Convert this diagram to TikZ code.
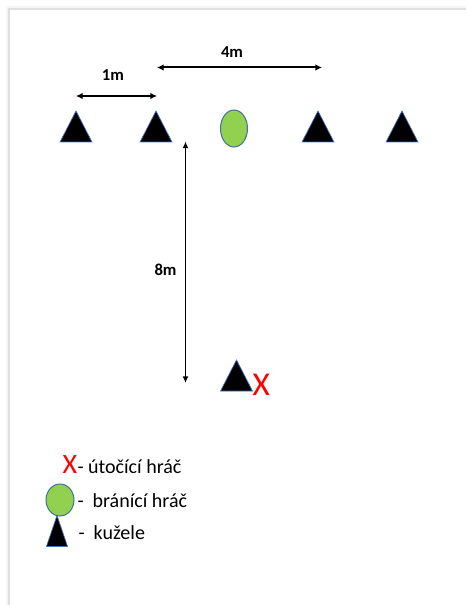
\documentclass[tikz,border=0pt]{standalone}
\usepackage{fontspec}
\setmainfont{Carlito}
\usetikzlibrary{arrows.meta,shapes.geometric}

\definecolor{coneedge}{RGB}{68,114,196}
\definecolor{playergreen}{RGB}{146,208,80}
\definecolor{playeredge}{RGB}{65,113,156}
\definecolor{attackred}{RGB}{255,0,0}

\tikzset{every picture/.style={line width=0.75pt}}
\tikzset{
  cone/.pic={\draw[coneedge, line width=0.5pt, fill=black] (-16,-15.5) -- (16,-15.5) -- (0,15.5) -- cycle;},
  dim/.style={{Latex[length=5pt,width=5pt]}-{Latex[length=5pt,width=5pt]}, line width=1.5pt},
  measure/.style={font=\bfseries\fontsize{12.5}{14}\selectfont},
  player/.style={ellipse, draw=playeredge, fill=playergreen, line width=0.75pt, inner sep=0pt},
  legendtext/.style={anchor=base west, inner sep=0pt, font=\fontsize{15}{18}\selectfont},
}

\begin{document}
\begin{tikzpicture}[x=0.75pt,y=0.75pt,yscale=-1,xscale=1]
	\useasboundingbox (0,0) rectangle (466,605);

	% page shadow
	\fill[black!4] (6,6) rectangle (466,605);
	\fill[black!12] (8,8) rectangle (466,605);
	\fill[white] (10,10) rectangle (466,605);

	% cones in the row
	\coordinate (c1) at (76,126.5);
	\coordinate (c2) at (156,126.5);
	\coordinate (c3) at (318,126.5);
	\coordinate (c4) at (402,126.5);
	\pic at (c1) {cone};
	\pic at (c2) {cone};
	\pic at (c3) {cone};
	\pic at (c4) {cone};

	% defending player
	\node[player, minimum width=27pt*0.75, minimum height=37pt*0.75] (def) at (234,128.5) {};

	% attacker start
	\coordinate (c5) at (236.5,375.5);
	\pic at (c5) {cone};
	\node[anchor=base west, inner sep=0pt, text=attackred, font=\fontsize{25}{28}\selectfont] (att) at (252,395) {X};

	% distances
	\coordinate (d1a) at (76,96);
	\coordinate (d1b) at (157,96);
	\draw[dim] (d1a) -- (d1b);
	\node[measure] (m1) at (113,75) {1m};

	\coordinate (d2a) at (157,67.5);
	\coordinate (d2b) at (322,67.5);
	\draw[dim] (d2a) -- (d2b);
	\node[measure] (m4) at (232,52) {4m};

	\coordinate (d3a) at (185.5,141.5);
	\coordinate (d3b) at (185.5,383);
	\draw[{Latex[length=5pt,width=4.5pt]}-{Latex[length=5pt,width=4.5pt]}, line width=1.1pt] (d3a) -- (d3b);
	\node[measure] (m8) at (165.5,270) {8m};

	% legend
	\node[anchor=base west, inner sep=0pt, text=attackred, font=\fontsize{21}{24}\selectfont] (lx) at (62,473) {X};
	\node[legendtext] (lxt) at (77,473) {- útočící hráč};
	\coordinate (lc) at (57,531);
	\pic[xscale=0.66] at (lc) {cone};
	\node[player, minimum width=28pt*0.75, minimum height=32pt*0.75] (lp) at (60,500) {};
	\node[legendtext] (lpt) at (77,507) {-~~bránící hráč};
	\node[legendtext] (lct) at (78,539) {-~~kužele};

\end{tikzpicture}
\end{document}
